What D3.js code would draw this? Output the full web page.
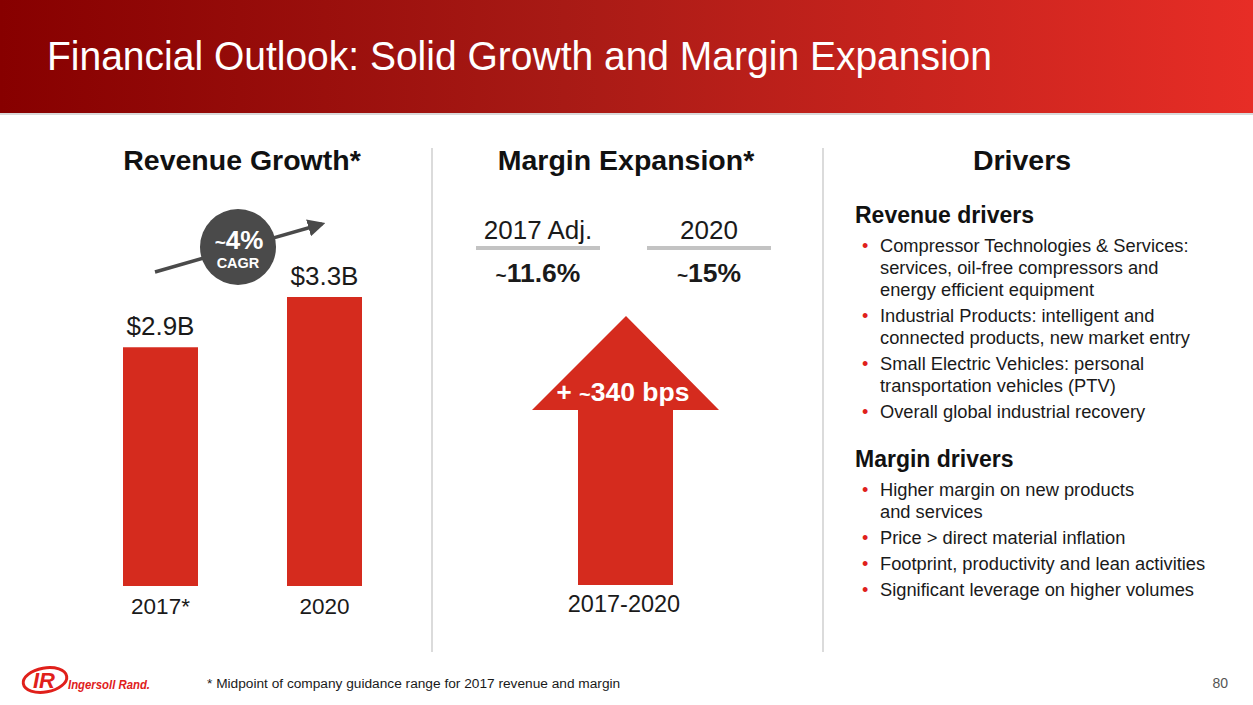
<!DOCTYPE html>
<html><head><meta charset="utf-8">
<script src="https://cdn.jsdelivr.net/npm/d3@7"></script>
<style>
html,body{margin:0;padding:0;background:#fff;}
svg{display:block;font-family:"Liberation Sans",Arial,Helvetica,sans-serif;}
</style></head>
<body>
<svg id="chart" width="1253" height="705"></svg>
<script>
// ---- data ----
const title = "Financial Outlook: Solid Growth and Margin Expansion";
const revCategories = ["2017*", "2020"];
const revValues = [2.9, 3.3];
const revLabels = ["$2.9B", "$3.3B"];
const cagrText = "4%";
const marginCategories = ["2017 Adj.", "2020"];
const marginValues = [11.6, 15];
const marginLabels = ["11.6%", "15%"];
const marginBps = 340;
const marginPeriod = "2017-2020";
const revenueDrivers = [
  ["Compressor Technologies & Services:", "services, oil-free compressors and", "energy efficient equipment"],
  ["Industrial Products: intelligent and", "connected products, new market entry"],
  ["Small Electric Vehicles: personal", "transportation vehicles (PTV)"],
  ["Overall global industrial recovery"]
];
const marginDrivers = [
  ["Higher margin on new products", "and services"],
  ["Price > direct material inflation"],
  ["Footprint, productivity and lean activities"],
  ["Significant leverage on higher volumes"]
];
const footnote = "* Midpoint of company guidance range for 2017 revenue and margin";
const pageNum = "80";

// ---- drawing ----
const svg = d3.select("#chart");
const RED = "#d52b1e";
const defs = svg.append("defs");
const grad = defs.append("linearGradient").attr("id","hdr").attr("x1","0").attr("x2","1").attr("y1","0").attr("y2","0");
grad.append("stop").attr("offset","0%").attr("stop-color","#870000");
grad.append("stop").attr("offset","45%").attr("stop-color","#a81a15");
grad.append("stop").attr("offset","100%").attr("stop-color","#e72d26");

svg.append("rect").attr("x",0).attr("y",0).attr("width",1253).attr("height",113).attr("fill","url(#hdr)");
svg.append("rect").attr("x",0).attr("y",113).attr("width",1253).attr("height",2).attr("fill","#d9d9d9");
svg.append("text").attr("x",47).attr("y",70).attr("fill","#fff").attr("font-size",41)
  .attr("textLength",945).attr("lengthAdjust","spacingAndGlyphs").text(title);

// section headers
const hdrs = [["Revenue Growth*",242],["Margin Expansion*",626],["Drivers",1022]];
svg.selectAll("text.sec").data(hdrs).join("text").attr("class","sec")
  .attr("x",d=>d[1]).attr("y",170).attr("text-anchor","middle").attr("font-weight","bold")
  .attr("font-size",28.5).attr("fill","#111").text(d=>d[0]);

// dividers
[432,823].forEach(x=>svg.append("line").attr("x1",x).attr("x2",x).attr("y1",148).attr("y2",652)
  .attr("stroke","#cfcfcf").attr("stroke-width",1.5));

// revenue bars
const xR = d3.scalePoint().domain(revCategories).range([160.5,324.5]);
const yR = d3.scaleLinear().domain([1.0,3.3]).range([586,297]);
const bw = 75;
const g = svg.append("g");
g.selectAll("rect.bar").data(revValues).join("rect").attr("class","bar")
  .attr("x",(d,i)=>xR(revCategories[i])-bw/2).attr("width",bw)
  .attr("y",d=>yR(d)).attr("height",d=>yR.range()[0]-yR(d)).attr("fill",RED);
g.selectAll("text.val").data(revValues).join("text").attr("class","val")
  .attr("x",(d,i)=>xR(revCategories[i])).attr("y",d=>yR(d)-12).attr("text-anchor","middle")
  .attr("font-size",26).attr("fill","#1a1a1a").text((d,i)=>revLabels[i]);
g.selectAll("text.cat").data(revCategories).join("text").attr("class","cat")
  .attr("x",d=>xR(d)).attr("y",614).attr("text-anchor","middle")
  .attr("font-size",22.5).attr("fill","#1a1a1a").text(d=>d);

// CAGR arrow
defs.append("marker").attr("id","ah").attr("viewBox","0 0 10 10").attr("refX",8).attr("refY",5)
  .attr("markerWidth",5).attr("markerHeight",5).attr("orient","auto")
  .append("path").attr("d","M0,0 L10,5 L0,10 z").attr("fill","#4a4a4a");
svg.append("line").attr("x1",155).attr("y1",272).attr("x2",322).attr("y2",224)
  .attr("stroke","#4a4a4a").attr("stroke-width",3.5).attr("marker-end","url(#ah)");
svg.append("circle").attr("cx",238).attr("cy",247).attr("r",38).attr("fill","#4a4a4a");
const ct = svg.append("text").attr("x",239).attr("y",249).attr("text-anchor","middle")
  .attr("font-weight","bold").attr("fill","#fff");
ct.append("tspan").attr("font-size",19).text("~");
ct.append("tspan").attr("font-size",26).text(cagrText);
svg.append("text").attr("x",238).attr("y",268).attr("text-anchor","middle").attr("font-weight","bold")
  .attr("font-size",14.5).attr("fill","#fff").text("CAGR");

// margin headers
const xM = d3.scalePoint().domain(marginCategories).range([538,709]);
marginCategories.forEach((c,i)=>{
  const cx = xM(c);
  svg.append("text").attr("x",cx).attr("y",239).attr("text-anchor","middle").attr("font-size",26)
    .attr("fill","#1a1a1a").text(c);
  svg.append("line").attr("x1",cx-62).attr("x2",cx+62).attr("y1",248).attr("y2",248)
    .attr("stroke","#c3c3c3").attr("stroke-width",4);
  const t = svg.append("text").attr("x",cx).attr("y",282).attr("text-anchor","middle")
    .attr("font-weight","bold").attr("fill","#1a1a1a");
  t.append("tspan").attr("font-size",19).text("~");
  t.append("tspan").attr("font-size",26.5).text(marginLabels[i]);
});

// margin arrow
const yA = d3.scaleLinear().domain([0,marginBps]).range([585,316]);
const ax = 626, tipY = yA(marginBps), baseY = yA(0), headY = tipY+94;
const arrow = d3.path();
arrow.moveTo(ax, tipY); arrow.lineTo(ax+93, headY); arrow.lineTo(ax+47, headY);
arrow.lineTo(ax+47, baseY); arrow.lineTo(ax-48, baseY); arrow.lineTo(ax-48, headY);
arrow.lineTo(ax-94, headY); arrow.closePath();
svg.append("path").attr("d",arrow.toString()).attr("fill",RED);
const bt = svg.append("text").attr("x",623).attr("y",401).attr("text-anchor","middle")
  .attr("font-weight","bold").attr("fill","#fff");
bt.append("tspan").attr("font-size",26).text("+ ");
bt.append("tspan").attr("font-size",20).text("~");
bt.append("tspan").attr("font-size",26.5).text(marginBps + " bps");
svg.append("text").attr("x",624).attr("y",612).attr("text-anchor","middle").attr("font-size",23.5)
  .attr("fill","#1a1a1a").text(marginPeriod);

// drivers
function drawList(heading, items, headY, firstY){
  svg.append("text").attr("x",855).attr("y",headY).attr("font-weight","bold").attr("font-size",23)
    .attr("fill","#111").text(heading);
  let y = firstY;
  items.forEach(lines=>{
    svg.append("text").attr("x",862).attr("y",y).attr("font-size",18).attr("fill","#e0201b").text("•");
    lines.forEach((ln,j)=>{
      svg.append("text").attr("x",880).attr("y",y).attr("font-size",18.3).attr("fill","#1a1a1a").text(ln);
      if(j<lines.length-1) y += 22;
    });
    y += 26;
  });
}
drawList("Revenue drivers", revenueDrivers, 223, 252);
drawList("Margin drivers", marginDrivers, 467, 496);

// footnote
svg.append("text").attr("x",207).attr("y",688).attr("font-size",13.7).attr("fill","#1a1a1a").text(footnote);
svg.append("text").attr("x",1228).attr("y",688).attr("text-anchor","end").attr("font-size",14).attr("fill","#555").text(pageNum);

// logo
const lg = svg.append("g");
lg.append("ellipse").attr("cx",45).attr("cy",680).attr("rx",22).attr("ry",12).attr("fill","none")
  .attr("stroke","#e0201b").attr("stroke-width",3).attr("transform","rotate(-10,45,680)");
lg.append("text").attr("x",44).attr("y",688).attr("text-anchor","middle").attr("font-weight","bold")
  .attr("font-style","italic").attr("font-size",22).attr("fill","#e0201b").text("IR");
lg.append("text").attr("x",68).attr("y",689).attr("font-weight","bold").attr("font-style","italic")
  .attr("font-size",13).attr("fill","#e0201b").attr("textLength",82).attr("lengthAdjust","spacingAndGlyphs").text("Ingersoll Rand.");
</script>
</body></html>
